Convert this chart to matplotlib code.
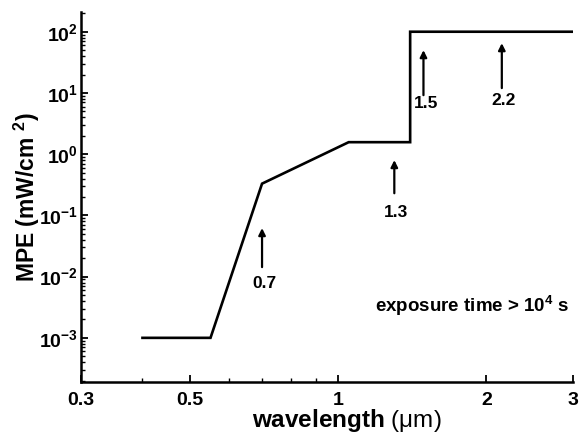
import matplotlib
matplotlib.use("Agg")
import matplotlib.pyplot as plt
from matplotlib.ticker import FixedLocator, NullFormatter, LogLocator

plt.rcParams['font.family'] = ['Liberation Sans', 'DejaVu Sans']
plt.rcParams['axes.unicode_minus'] = False
plt.rcParams['mathtext.fontset'] = 'custom'
plt.rcParams['mathtext.rm'] = 'Liberation Sans'
plt.rcParams['mathtext.bf'] = 'Liberation Sans:bold'
plt.rcParams['mathtext.it'] = 'Liberation Sans:italic'

# MPE curve (wavelength in um, MPE in mW/cm^2)
wavelength = [0.4, 0.55, 0.7, 1.05, 1.4, 1.4, 3.0]
mpe = [1e-3, 1e-3, 0.33, 1.57, 1.57, 100, 100]

# Arrow annotations: label, x, tail y, head y, label y
arrow_labels = ["0.7", "1.3", "1.5", "2.2"]
arrow_x = [0.7, 1.3, 1.49, 2.15]
arrow_tail = [0.0143, 0.23, 9.2, 12.0]
arrow_head = [0.062, 0.8, 50.0, 65.0]
label_y = [0.0078, 0.113, 6.8, 7.6]

xticks = [0.3, 0.5, 1, 2, 3]
xticklabels = ["0.3", "0.5", "1", "2", "3"]
xminor = [0.4, 0.6, 0.7, 0.8, 0.9]
yticks = [1e-3, 1e-2, 1e-1, 1e0, 1e1, 1e2]
yticklabels = [r"$\mathbf{10^{-3}}$", r"$\mathbf{10^{-2}}$", r"$\mathbf{10^{-1}}$",
               r"$\mathbf{10^{0}}$", r"$\mathbf{10^{1}}$", r"$\mathbf{10^{2}}$"]

fig = plt.figure(figsize=(5.79, 4.33), dpi=100)
ax = fig.add_axes([81/579, 1-382/433, (573-81)/579, (382-12)/433])

ax.plot(wavelength, mpe, color='black', lw=1.9, solid_joinstyle='miter')

for lab, x, yt, yh, yl in zip(arrow_labels, arrow_x, arrow_tail, arrow_head, label_y):
    ax.annotate("", xy=(x, yh), xytext=(x, yt),
                arrowprops=dict(arrowstyle='-|>', color='black', lw=1.6,
                                mutation_scale=10, shrinkA=0, shrinkB=0))
    ax.text(x * 1.01, yl, lab, ha='center', va='center', fontsize=12.5, fontweight='bold')

ax.text(0.993, 0.205, r"exposure time > 10$^{\mathbf{4}}$ s", transform=ax.transAxes,
        ha='right', va='center', fontsize=13.5, fontweight='bold')

ax.set_xscale('log')
ax.set_yscale('log')
ax.set_xlim(0.3, 3.0)
ax.set_ylim(1.9e-4, 210)

ax.xaxis.set_major_locator(FixedLocator(xticks))
ax.set_xticklabels(xticklabels)
ax.xaxis.set_minor_locator(FixedLocator(xminor))
ax.xaxis.set_minor_formatter(NullFormatter())

ax.yaxis.set_major_locator(FixedLocator(yticks))
ax.set_yticklabels(yticklabels)
ax.yaxis.set_minor_locator(LogLocator(base=10, subs=range(2, 10), numticks=20))
ax.yaxis.set_minor_formatter(NullFormatter())

for s in ['top', 'right']:
    ax.spines[s].set_visible(False)
for s in ['left', 'bottom']:
    ax.spines[s].set_linewidth(1.8)

ax.tick_params(which='major', direction='in', length=5, width=1.3, labelsize=14)
ax.tick_params(which='minor', direction='in', length=3, width=1.0)
ax.tick_params(axis='x', pad=7)
ax.tick_params(axis='y', pad=2)
for t in ax.get_xticklabels() + ax.get_yticklabels():
    t.set_fontweight('bold')

ax.set_xlabel(r"$\mathbf{wavelength}$ $(\mathrm{\mu m})$", fontsize=17.5, labelpad=-1)
ax.xaxis.label.set_x(0.54)
ax.set_ylabel(r"MPE (mW/cm $^{\mathbf{2}}$)", fontsize=16.5, fontweight='bold', labelpad=-2)

fig.savefig("out.png", dpi=100)
